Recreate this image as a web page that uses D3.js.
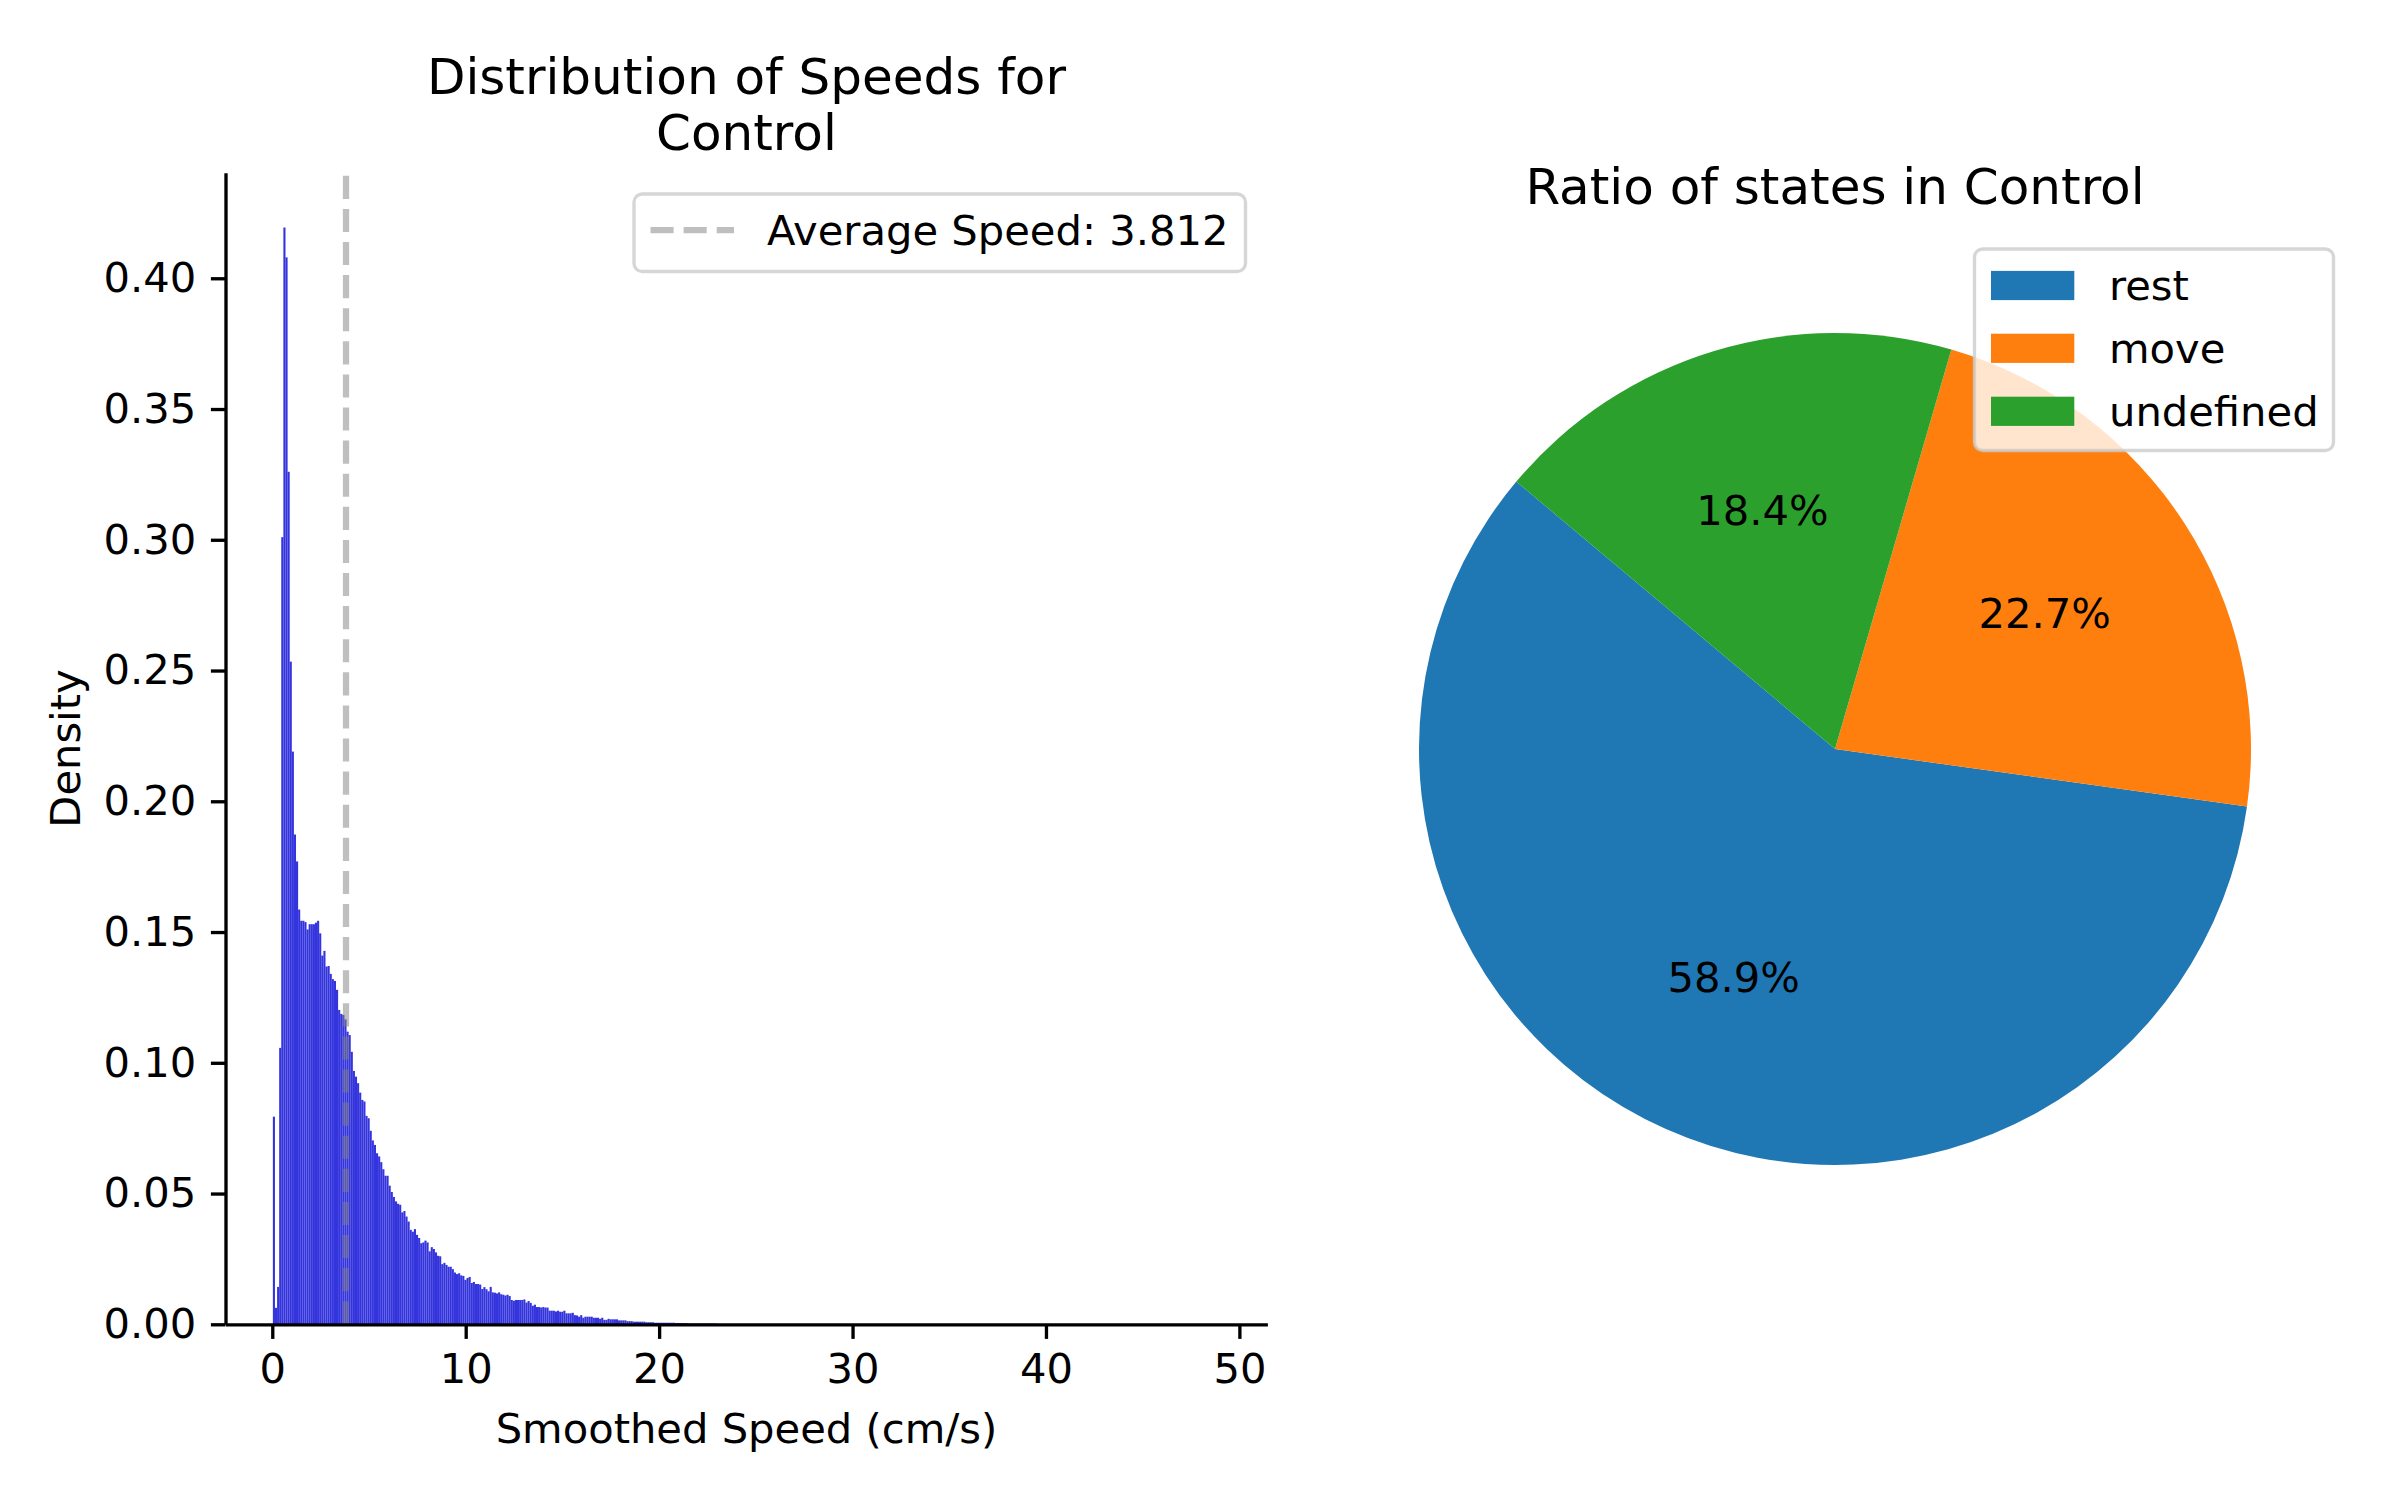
<!DOCTYPE html>
<html><head><meta charset="utf-8">
<script src="https://cdn.jsdelivr.net/npm/d3@7"></script>
<style>
body{margin:0;background:#fff}
svg{display:block}
text{font-family:"DejaVu Sans",sans-serif;fill:#000}
</style>
</head><body>
<svg id="chart" width="2400" height="1500"></svg>
<script>
// ---------- data ----------
const speedMin = 0.03;     // smallest smoothed speed (cm/s)
const speedMax = 49.0;     // largest smoothed speed (cm/s)
const binCount = 450;      // histogram bins across [speedMin, speedMax]
// density of each bin (bins beyond the list are ~0)
const densities = [
0.0794,0.0063,0.0143,0.1057,0.301,0.4194,0.408,0.326,0.2534,0.219,
0.1873,0.177,0.1586,0.1543,0.1543,0.1538,0.151,0.153,0.153,0.153,
0.1536,0.1543,0.1495,0.141,0.1428,0.1368,0.137,0.134,0.132,0.1313,
0.1279,0.1202,0.1187,0.1183,0.1166,0.1119,0.1106,0.1042,0.0969,0.0947,
0.0922,0.0886,0.0858,0.0852,0.0797,0.0788,0.074,0.0703,0.0686,0.0654,
0.0642,0.062,0.0593,0.0568,0.0568,0.053,0.0506,0.0487,0.047,0.0461,
0.0457,0.0428,0.0433,0.0412,0.0393,0.0361,0.0354,0.0364,0.0342,0.033,
0.031,0.0313,0.032,0.0313,0.0279,0.0295,0.0288,0.0275,0.0262,0.026,
0.0230,0.0235,0.0227,0.0220,0.0220,0.0211,0.0198,0.0192,0.0195,0.0187,
0.0185,0.0170,0.0177,0.0181,0.0158,0.0162,0.0154,0.0154,0.0152,0.0135,
0.0142,0.0134,0.0126,0.0143,0.0122,0.0121,0.0118,0.0122,0.0115,0.0113,
0.0110,0.0113,0.0108,0.0093,0.0090,0.0093,0.0093,0.0093,0.0093,0.0095,
0.0083,0.0089,0.0082,0.0071,0.0075,0.0066,0.0066,0.0064,0.0066,0.0064,
0.0064,0.0052,0.0052,0.0052,0.0049,0.0052,0.0048,0.0048,0.0052,0.0042,
0.0042,0.0042,0.0044,0.0035,0.0034,0.0029,0.0035,0.0025,0.0029,0.0029,
0.0029,0.0029,0.0025,0.0025,0.0025,0.0021,0.0025,0.0017,0.0017,0.0021,
0.0019,0.0019,0.0019,0.0019,0.0015,0.0015,0.0015,0.0015,0.0012,0.0012,
0.0012,0.0010,0.0010,0.0010,0.0010,0.0010,0.0010,0.0008,0.0008,0.0008,
0.0008,0.0006,0.0006,0.0006,0.0006,0.0006,0.0006,0.0006,0.0006,0.0006,
0.0006,0.0005,0.0005,0.0005,0.0005,0.0005,0.0005,0.0003,0.0003,0.0003,
0.0003,0.0003,0.0003,0.0003,0.0003,0.0003,0.0003,0.0003,0.0003,0.0003,
0.0003,0.0001,0.0001,0.0001,0.0001,0.0001,0.0001,0.0001,0.0001,0.0001,
0.0001,0.0001,0.0001,0.0001,0.0001,0.0001,0.00005,0.00005,0.00005,0.00005,
0.00005,0.00005,0.00005,0.00005,0.00005,0.00005,0.00005,0.00005,0.00005,0.00005,0.00005
];
const averageSpeed = 3.812;
const xTickValues = [0, 10, 20, 30, 40, 50];
const yTickValues = [0, 0.05, 0.10, 0.15, 0.20, 0.25, 0.30, 0.35, 0.40];

const states = ["rest", "move", "undefined"];
const statePercents = [58.9, 22.7, 18.4];
const stateColors = ["#1f77b4", "#ff7f0e", "#2ca02c"];

const groupName = "Control";

// ---------- layout ----------
const FS = 41.67, TFS = 50;
const svg = d3.select("#chart");
const ax = {left: 225.5, right: 1267.4, top: 172.7, bottom: 1324.3};

const span = speedMax - speedMin;
const x = d3.scaleLinear()
  .domain([speedMin - 0.05 * span, speedMax + 0.05 * span])
  .range([ax.left, ax.right]);
const yMax = d3.max(densities) * 1.05;
const y = d3.scaleLinear().domain([0, yMax]).range([ax.bottom, ax.top]);
const binW = span / binCount;

// bars
svg.append("g").selectAll("rect")
  .data(densities)
  .join("rect")
  .attr("x", (d, i) => x(speedMin + i * binW))
  .attr("width", (d, i) => x(speedMin + (i + 1) * binW) - x(speedMin + i * binW))
  .attr("y", d => y(d))
  .attr("height", d => y(0) - y(d))
  .attr("fill", "#3434dd");

// average line
svg.append("line")
  .attr("x1", x(averageSpeed)).attr("x2", x(averageSpeed))
  .attr("y1", ax.bottom).attr("y2", ax.top)
  .attr("stroke", "#808080").attr("stroke-opacity", 0.5)
  .attr("stroke-width", 6.25).attr("stroke-dasharray", "23.1,10");

// axes
function styleAxis(g) {
  g.attr("font-size", FS).attr("font-family", '"DejaVu Sans",sans-serif');
  g.selectAll("path,line").attr("stroke", "#000").attr("stroke-width", 3.33);
  g.selectAll("text").attr("fill", "#000");
}
svg.append("g")
  .attr("transform", `translate(0,${ax.bottom})`)
  .call(d3.axisBottom(x).tickValues(xTickValues).tickFormat(d3.format("d"))
        .tickSize(14.6).tickPadding(14.6).tickSizeOuter(0))
  .call(styleAxis);
svg.append("g")
  .attr("transform", `translate(${ax.left},0)`)
  .call(d3.axisLeft(y).tickValues(yTickValues).tickFormat(d3.format(".2f"))
        .tickSize(14.6).tickPadding(14.6).tickSizeOuter(0))
  .call(styleAxis);

// labels
svg.append("text").attr("x", (ax.left + ax.right) / 2).attr("y", 1443)
  .attr("text-anchor", "middle").attr("font-size", FS).text("Smoothed Speed (cm/s)");
svg.append("text").attr("transform", `translate(80,${(ax.top + ax.bottom) / 2}) rotate(-90)`)
  .attr("text-anchor", "middle").attr("font-size", FS).text("Density");
const t1 = svg.append("text").attr("text-anchor", "middle").attr("font-size", TFS);
t1.append("tspan").attr("x", (ax.left + ax.right) / 2).attr("y", 94.3).text("Distribution of Speeds for");
t1.append("tspan").attr("x", (ax.left + ax.right) / 2).attr("y", 150).text(groupName);

// histogram legend
const lg = {x0: 634, y0: 194, x1: 1245.5, y1: 271.5};
svg.append("rect").attr("x", lg.x0).attr("y", lg.y0)
  .attr("width", lg.x1 - lg.x0).attr("height", lg.y1 - lg.y0).attr("rx", 8.3)
  .attr("fill", "#fff").attr("fill-opacity", 0.8)
  .attr("stroke", "#cccccc").attr("stroke-opacity", 0.8).attr("stroke-width", 3.33);
svg.append("line").attr("x1", 650.5).attr("x2", 734).attr("y1", 230).attr("y2", 230)
  .attr("stroke", "#808080").attr("stroke-opacity", 0.5)
  .attr("stroke-width", 6.25).attr("stroke-dasharray", "23.1,10");
svg.append("text").attr("x", 767).attr("y", 245).attr("font-size", FS)
  .text(`Average Speed: ${averageSpeed}`);

// ---------- pie ----------
const pc = {cx: 1835, cy: 749, r: 416};
const startDeg = 140; // matplotlib startangle, counter-clockwise
const a0 = (90 - startDeg) * Math.PI / 180;
const pie = d3.pie().sort(null).value(d => d).startAngle(a0).endAngle(a0 - 2 * Math.PI);
const arcs = pie(statePercents);
const arc = d3.arc().innerRadius(0).outerRadius(pc.r);
const labelArc = d3.arc().innerRadius(pc.r * 0.6).outerRadius(pc.r * 0.6);
const pg = svg.append("g").attr("transform", `translate(${pc.cx},${pc.cy})`);
pg.selectAll("path").data(arcs).join("path")
  .attr("d", arc).attr("fill", (d, i) => stateColors[i]);
pg.selectAll("text").data(arcs).join("text")
  .attr("transform", d => `translate(${labelArc.centroid(d)})`)
  .attr("text-anchor", "middle").attr("dy", "0.36em").attr("font-size", FS)
  .text(d => d3.format(".1f")(d.data) + "%");

svg.append("text").attr("x", pc.cx).attr("y", 204.3).attr("text-anchor", "middle")
  .attr("font-size", TFS).text(`Ratio of states in ${groupName}`);

// pie legend
const pl = {x0: 1974.5, y0: 249, x1: 2333.5, y1: 450.5};
svg.append("rect").attr("x", pl.x0).attr("y", pl.y0)
  .attr("width", pl.x1 - pl.x0).attr("height", pl.y1 - pl.y0).attr("rx", 8.3)
  .attr("fill", "#fff").attr("fill-opacity", 0.8)
  .attr("stroke", "#cccccc").attr("stroke-opacity", 0.8).attr("stroke-width", 3.33);
const rowY = [285.5, 348.3, 411.3];
states.forEach((s, i) => {
  svg.append("rect").attr("x", 1991).attr("y", rowY[i] - 14.6)
    .attr("width", 83.3).attr("height", 29.2).attr("fill", stateColors[i]);
  svg.append("text").attr("x", 2109).attr("y", rowY[i] + 14.5)
    .attr("font-size", FS).text(s);
});
</script>
</body></html>
